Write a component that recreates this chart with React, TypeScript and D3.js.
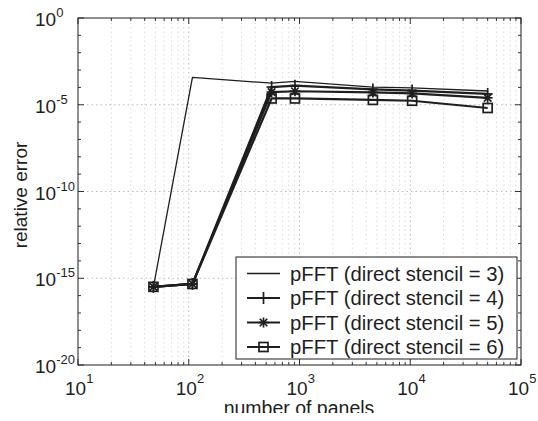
import React from "react";
import * as d3 from "d3";

const panels = [48, 108, 560, 910, 4600, 10400, 50000];
const stencil3 = [3.2e-16, 3.8e-4, 1.74e-4, 2.2e-4, 1.05e-4, 9.3e-5, 6.2e-5];
const stencil4 = [3.2e-16, 4.7e-16, 1.05e-4, 1.26e-4, 7.6e-5, 6.6e-5, 4.2e-5];
const stencil5 = [3.2e-16, 4.7e-16, 5.4e-5, 6.0e-5, 5.1e-5, 4.5e-5, 2.5e-5];
const stencil6 = [3.2e-16, 4.7e-16, 2.3e-5, 2.3e-5, 1.9e-5, 1.7e-5, 6.5e-6];
const seriesNames = [
  "pFFT (direct stencil = 3)",
  "pFFT (direct stencil = 4)",
  "pFFT (direct stencil = 5)",
  "pFFT (direct stencil = 6)",
];
const xTickExps = [1, 2, 3, 4, 5];
const yTickExps = [0, -5, -10, -15, -20];

const W = 538;
const H = 421;
const L = 78, R = 521, T = 18, B = 365;
const FONT = "'Liberation Sans', Arial, Helvetica, sans-serif";
const INK = "#1e1e1e";

type Marker = "none" | "plus" | "star" | "square";

function MarkerShape({ type, x, y }: { type: Marker; x: number; y: number }) {
  const s = 5;
  if (type === "plus") {
    return (
      <g stroke={INK} strokeWidth={1.7}>
        <line x1={x - s} x2={x + s} y1={y} y2={y} />
        <line x1={x} x2={x} y1={y - s - 1} y2={y + s + 1} />
      </g>
    );
  }
  if (type === "star") {
    const d = s * 0.75;
    return (
      <g stroke={INK} strokeWidth={1.7}>
        <line x1={x - s} x2={x + s} y1={y} y2={y} />
        <line x1={x} x2={x} y1={y - s} y2={y + s} />
        <line x1={x - d} x2={x + d} y1={y - d} y2={y + d} />
        <line x1={x - d} x2={x + d} y1={y + d} y2={y - d} />
      </g>
    );
  }
  if (type === "square") {
    return (
      <rect x={x - 4.5} y={y - 4.5} width={9} height={9} fill="none" stroke={INK} strokeWidth={1.7} />
    );
  }
  return null;
}

export default function App() {
  const x = d3.scaleLog().domain([10, 1e5]).range([L, R]);
  const y = d3.scaleLog().domain([1e-20, 1]).range([B, T]);

  const series: { vals: number[]; marker: Marker; width: number }[] = [
    { vals: stencil3, marker: "none", width: 1.3 },
    { vals: stencil4, marker: "plus", width: 2.2 },
    { vals: stencil5, marker: "star", width: 2.2 },
    { vals: stencil6, marker: "square", width: 2.2 },
  ];

  const line = d3
    .line<number>()
    .x((_, i) => x(panels[i]))
    .y((v) => y(v));

  const minorX: number[] = [];
  for (let e = 1; e < 5; e++) {
    for (let m = 2; m <= 9; m++) minorX.push(m * Math.pow(10, e));
  }
  const decadesY: number[] = [];
  for (let e = -20; e <= 0; e++) decadesY.push(Math.pow(10, e));

  const legX = 236, legY = 257, legW = 281, legH = 102;
  const legRows = [273.5, 298, 322.5, 347];

  return (
    <svg
      width={W}
      height={H}
      style={{ position: "absolute", left: 0, top: 0, background: "#fff" }}
      fontFamily={FONT}
    >
      <defs>
        <clipPath id="plotclip">
          <rect x={L} y={T} width={R - L} height={B - T} />
        </clipPath>
        <clipPath id="pageclip">
          <rect x={0} y={0} width={W} height={413} />
        </clipPath>
      </defs>
      <rect x={0} y={0} width={W} height={H} fill="#fff" />

      {/* grid */}
      <g stroke="#d2d2d2" strokeWidth={0.8} strokeDasharray="1.5,3">
        {minorX.map((v) => (
          <line key={"gx" + v} x1={x(v)} x2={x(v)} y1={T} y2={B} />
        ))}
        {xTickExps.slice(1, -1).map((e) => (
          <line key={"gX" + e} x1={x(Math.pow(10, e))} x2={x(Math.pow(10, e))} y1={T} y2={B} stroke="#a8a8a8" />
        ))}
        {yTickExps.slice(1, -1).map((e) => (
          <line key={"gy" + e} x1={L} x2={R} y1={y(Math.pow(10, e))} y2={y(Math.pow(10, e))} stroke="#a8a8a8" />
        ))}
      </g>

      {/* ticks */}
      <g stroke={INK} strokeWidth={0.9}>
        {minorX.map((v) => (
          <g key={"tx" + v}>
            <line x1={x(v)} x2={x(v)} y1={B} y2={B - 3} />
            <line x1={x(v)} x2={x(v)} y1={T} y2={T + 3} />
          </g>
        ))}
        {xTickExps.map((e) => (
          <g key={"tX" + e}>
            <line x1={x(Math.pow(10, e))} x2={x(Math.pow(10, e))} y1={B} y2={B - 6} />
            <line x1={x(Math.pow(10, e))} x2={x(Math.pow(10, e))} y1={T} y2={T + 6} />
          </g>
        ))}
        {decadesY.map((v) => {
          const major = yTickExps.includes(Math.round(Math.log10(v)));
          const len = major ? 6 : 3;
          return (
            <g key={"ty" + v}>
              <line x1={L} x2={L + len} y1={y(v)} y2={y(v)} />
              <line x1={R} x2={R - len} y1={y(v)} y2={y(v)} />
            </g>
          );
        })}
      </g>

      {/* data */}
      <g clipPath="url(#plotclip)">
        {series.map((s, si) => (
          <path key={"l" + si} d={line(s.vals) || ""} fill="none" stroke={INK} strokeWidth={s.width} strokeLinejoin="round" />
        ))}
        {series.map((s, si) =>
          s.vals.map((v, i) => (
            <MarkerShape key={"m" + si + "-" + i} type={s.marker} x={x(panels[i])} y={y(v)} />
          ))
        )}
      </g>

      {/* axes box */}
      <rect x={L} y={T} width={R - L} height={B - T} fill="none" stroke={INK} strokeWidth={1} />

      {/* y tick labels */}
      <g fill={INK}>
        {yTickExps.map((e) => (
          <text key={"yl" + e} x={35} y={y(Math.pow(10, e)) + 8} fontSize={19}>
            10
            <tspan dy={-9} fontSize={13}>{String(e)}</tspan>
          </text>
        ))}
      </g>

      {/* x tick labels */}
      <g fill={INK}>
        {xTickExps.map((e) => (
          <text key={"xl" + e} x={x(Math.pow(10, e)) - 13} y={395} fontSize={19}>
            10
            <tspan dy={-12} fontSize={13}>{e}</tspan>
          </text>
        ))}
      </g>

      {/* axis labels */}
      <text
        transform={`translate(27,195) rotate(-90)`}
        textAnchor="middle"
        fontSize={19}
        fill={INK}
      >
        relative error
      </text>
      <g clipPath="url(#pageclip)">
        <text x={299} y={415} textAnchor="middle" fontSize={19.5} fill={INK}>
          number of panels
        </text>
      </g>

      {/* legend */}
      <rect x={legX} y={legY} width={legW} height={legH} fill="#fff" stroke={INK} strokeWidth={1} />
      {series.map((s, i) => (
        <g key={"lg" + i}>
          <line x1={247} x2={280} y1={legRows[i]} y2={legRows[i]} stroke={INK} strokeWidth={s.width} />
          <MarkerShape type={s.marker} x={263.5} y={legRows[i]} />
          <text x={290} y={legRows[i] + 7} fontSize={20.3} fill={INK}>
            {seriesNames[i]}
          </text>
        </g>
      ))}
    </svg>
  );
}
